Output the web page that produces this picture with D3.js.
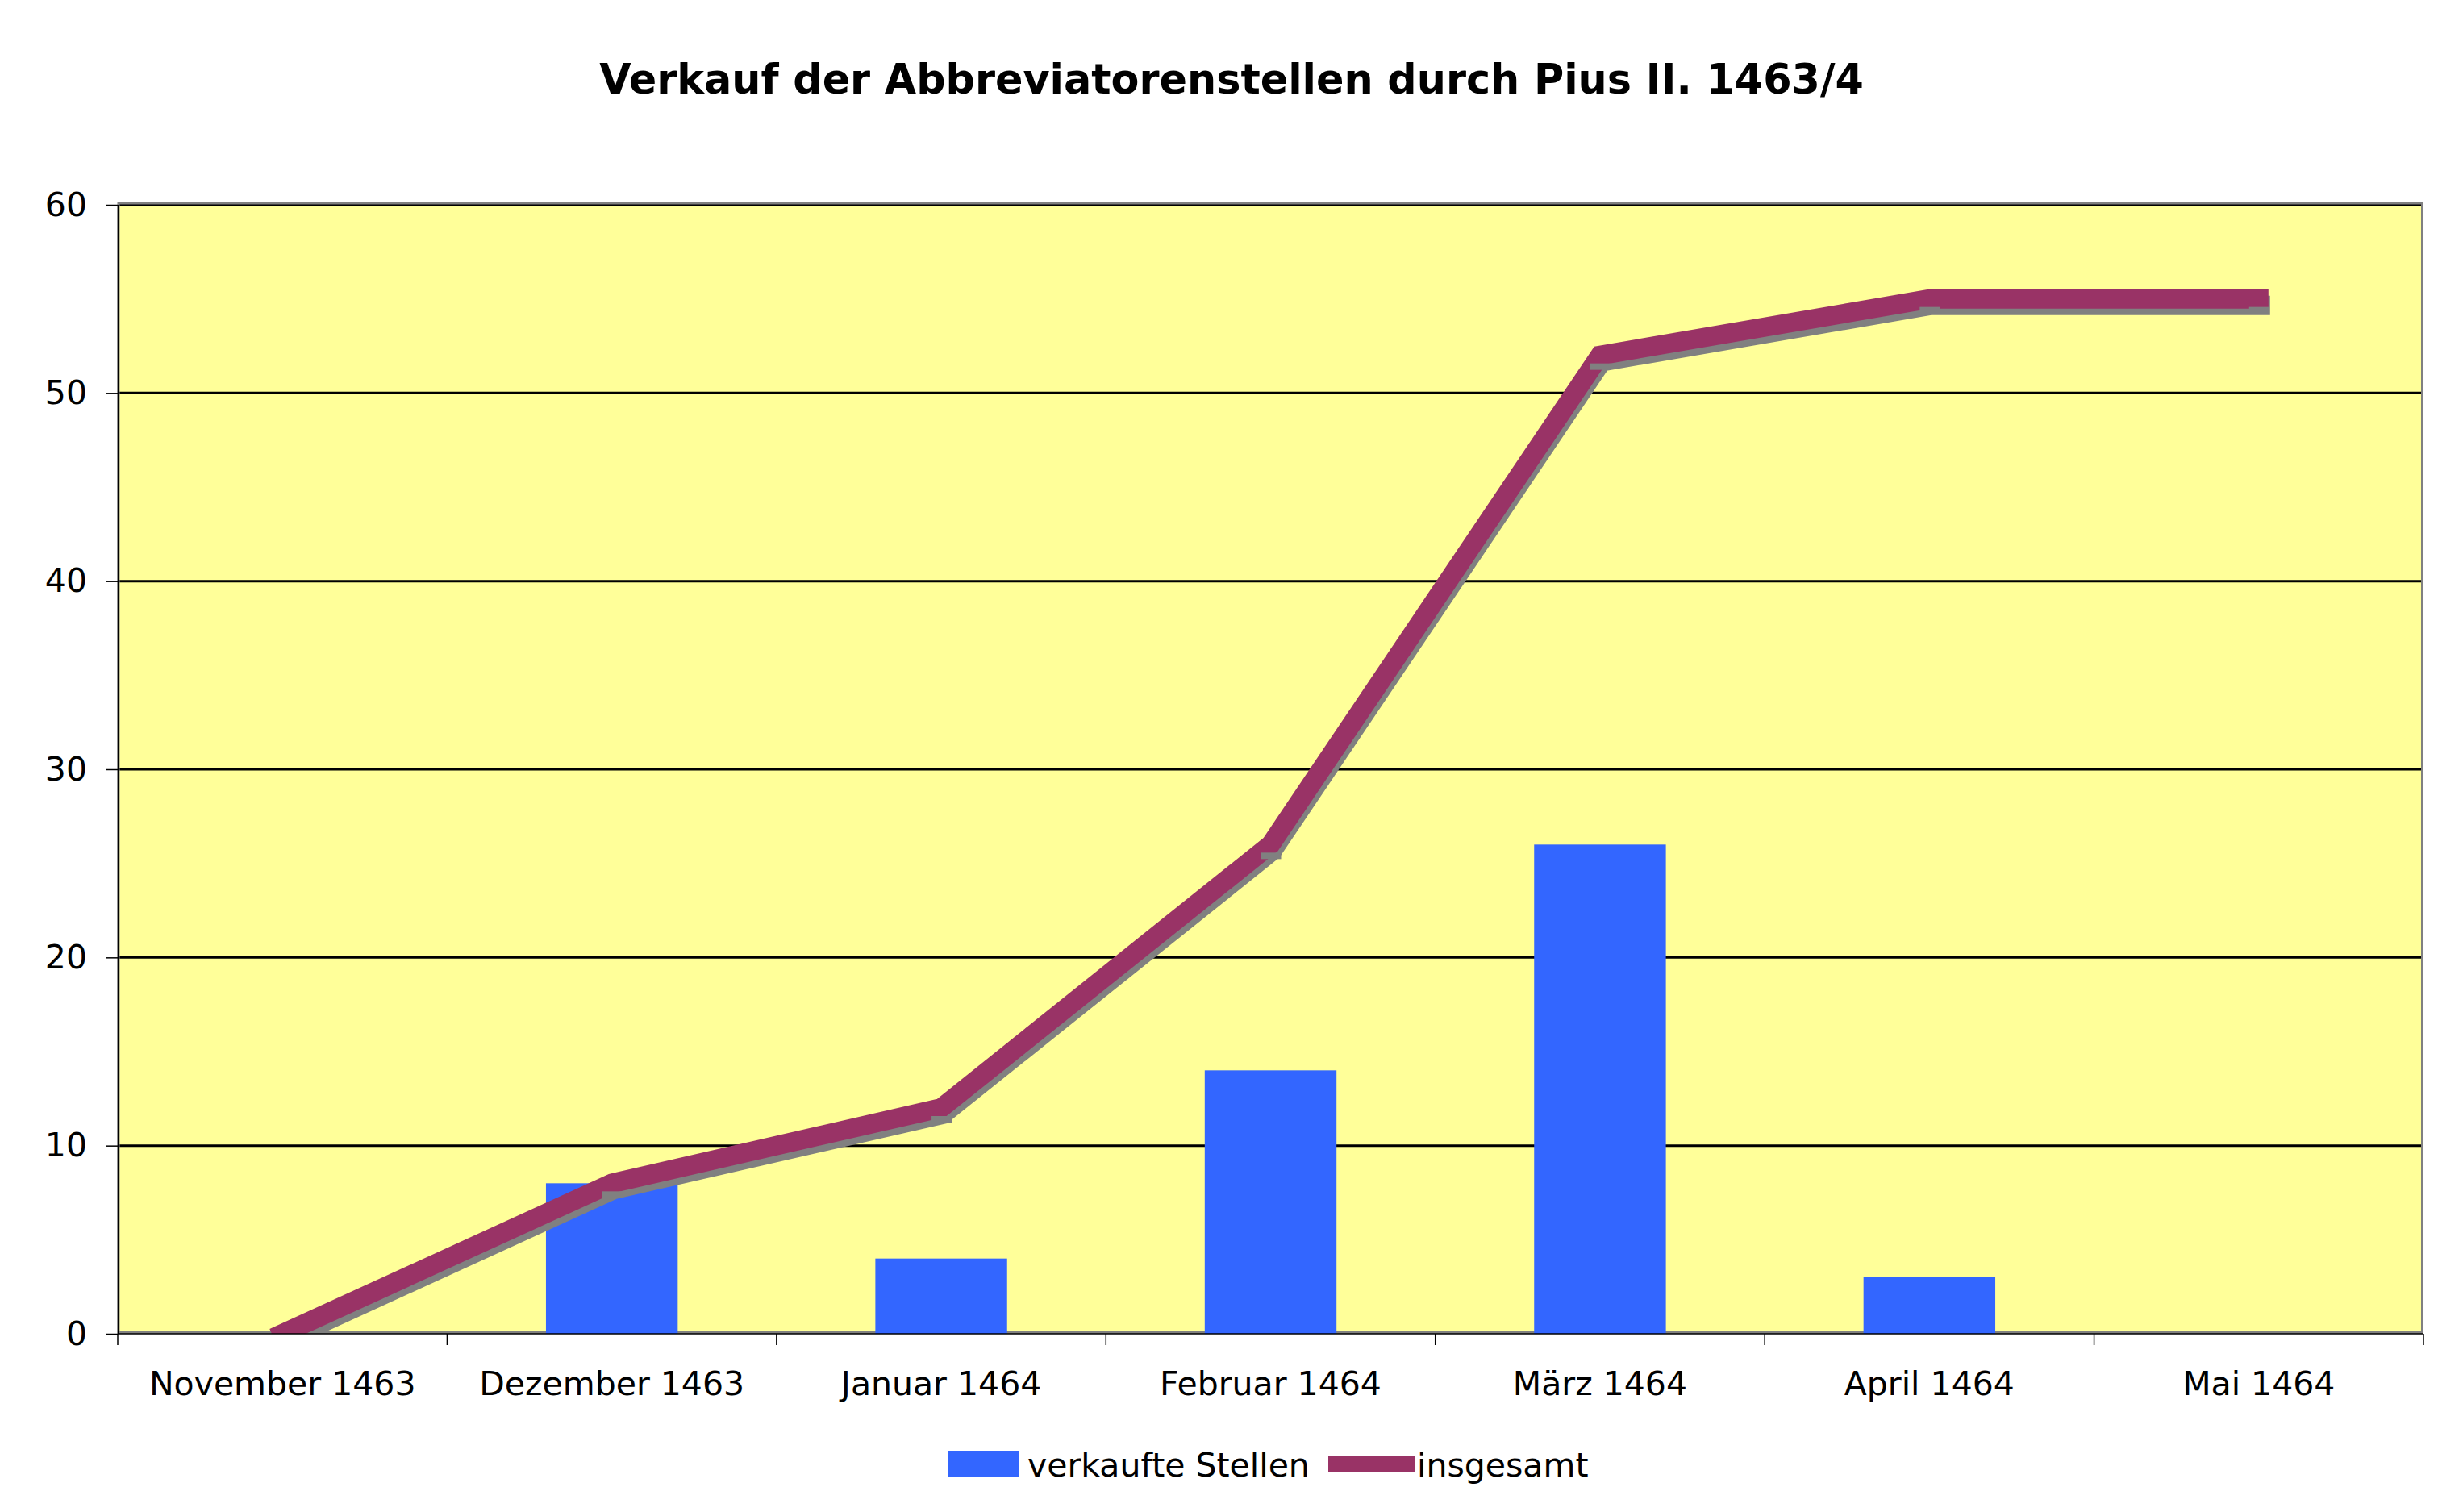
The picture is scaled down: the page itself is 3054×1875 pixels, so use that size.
<!DOCTYPE html>
<html><head><meta charset="utf-8">
<script src="https://cdn.jsdelivr.net/npm/d3@7"></script>
<style>body{margin:0;background:#fff}svg{display:block}text{font-family:"DejaVu Sans",Verdana,sans-serif}</style>
</head><body>
<svg id="c" width="3054" height="1875"></svg>
<script>
const categories = ["November 1463","Dezember 1463","Januar 1464","Februar 1464","März 1464","April 1464","Mai 1464"];
const verkaufteStellen = [0, 8, 4, 14, 26, 3, 0];
const insgesamt = [0, 8, 12, 26, 52, 55, 55];
const yTicks = [0, 10, 20, 30, 40, 50, 60];
const title = "Verkauf der Abbreviatorenstellen durch Pius II. 1463/4";
const seriesNames = ["verkaufte Stellen", "insgesamt"];

const svg = d3.select("#c");
const L = 146, R = 3005, T = 254, B = 1654;
const x = d3.scaleBand().domain(categories).range([L, R]).padding(0);
const y = d3.scaleLinear().domain([0, 60]).range([B, T]);

// title
const tt = svg.append("text").attr("x", 1527).attr("y", 116).attr("text-anchor", "middle")
  .attr("font-weight", "bold").attr("font-size", 47).text(title);
const tw = tt.node().getComputedTextLength();
tt.attr("font-size", 47 * 1568 / tw);

svg.append("defs").append("clipPath").attr("id", "clip")
  .append("rect").attr("x", L).attr("y", T).attr("width", R - L).attr("height", B - T);

// plot background
svg.append("rect").attr("x", L).attr("y", T).attr("width", R - L).attr("height", B - T).attr("fill", "#FFFF99");

// gridlines
svg.append("g").selectAll("line").data(yTicks.filter(d => d > 0)).join("line")
  .attr("x1", L).attr("x2", R).attr("y1", d => y(d)).attr("y2", d => y(d))
  .attr("stroke", "#000").attr("stroke-width", 3);

// plot border (gray)
svg.append("rect").attr("x", L + 1).attr("y", T - 2).attr("width", R - L - 2.5).attr("height", B - T + 0.5)
  .attr("fill", "none").attr("stroke", "#808080").attr("stroke-width", 3);

const plot = svg.append("g").attr("clip-path", "url(#clip)");

// bars
const bw = x.bandwidth() * 0.4;
plot.append("g").selectAll("rect").data(categories).join("rect")
  .attr("x", (d) => x(d) + x.bandwidth() / 2 - bw / 2)
  .attr("y", (d, i) => y(verkaufteStellen[i]))
  .attr("width", bw)
  .attr("height", (d, i) => B - y(verkaufteStellen[i]))
  .attr("fill", "#3366FF");

// line with shadow
const line = d3.line().x((d, i) => x(categories[i]) + x.bandwidth() / 2).y(d => y(d));
plot.append("path").datum(insgesamt).attr("d", line).attr("transform", "translate(2,8)")
  .attr("fill", "none").attr("stroke", "#808080").attr("stroke-width", 24)
  .attr("stroke-linejoin", "miter").attr("stroke-linecap", "square");
plot.append("path").datum(insgesamt).attr("d", line)
  .attr("fill", "none").attr("stroke", "#993366").attr("stroke-width", 24)
  .attr("stroke-linejoin", "miter").attr("stroke-linecap", "square");
// shadow dash markers
plot.append("g").selectAll("rect").data(insgesamt).join("rect")
  .attr("x", (d, i) => x(categories[i]) + x.bandwidth() / 2 - 12)
  .attr("y", d => y(d) + 10)
  .attr("width", 25).attr("height", 8).attr("fill", "#808080");

// y axis
const ya = svg.append("g").attr("transform", `translate(${L},0)`)
  .call(d3.axisLeft(y).tickValues(yTicks).tickSize(14).tickPadding(24).tickFormat(d3.format("d")));
ya.select(".domain").attr("stroke", "#000").attr("stroke-width", 1.5).attr("d", `M0.5,${T}V${B}`);
ya.selectAll(".tick line").attr("stroke", "#000").attr("stroke-width", 1.5);
ya.selectAll(".tick text").attr("font-size", 41).attr("fill", "#000").attr("font-family", "DejaVu Sans");

// x axis
const xa = svg.append("g").attr("transform", `translate(0,${B})`);
xa.append("line").attr("x1", L).attr("x2", R).attr("y1", 0).attr("y2", 0).attr("stroke", "#000").attr("stroke-width", 1.5);
xa.selectAll("line.tk").data(d3.range(categories.length + 1)).join("line").attr("class", "tk")
  .attr("x1", i => i < categories.length ? x(categories[i]) : R).attr("x2", i => i < categories.length ? x(categories[i]) : R)
  .attr("y1", 0).attr("y2", 14).attr("stroke", "#000").attr("stroke-width", 1.5);
xa.selectAll("text").data(categories).join("text")
  .attr("x", d => x(d) + x.bandwidth() / 2).attr("y", 76).attr("text-anchor", "middle")
  .attr("font-size", 41).attr("fill", "#000").text(d => d);

// legend
const lg = svg.append("g");
lg.append("rect").attr("x", 1175).attr("y", 1799).attr("width", 88).attr("height", 33).attr("fill", "#3366FF");
lg.append("text").attr("x", 1274).attr("y", 1831).attr("font-size", 41).text(seriesNames[0]);
lg.append("rect").attr("x", 1647).attr("y", 1805).attr("width", 108).attr("height", 20).attr("fill", "#993366");
lg.append("text").attr("x", 1757).attr("y", 1831).attr("font-size", 41).text(seriesNames[1]);
</script>
</body></html>
